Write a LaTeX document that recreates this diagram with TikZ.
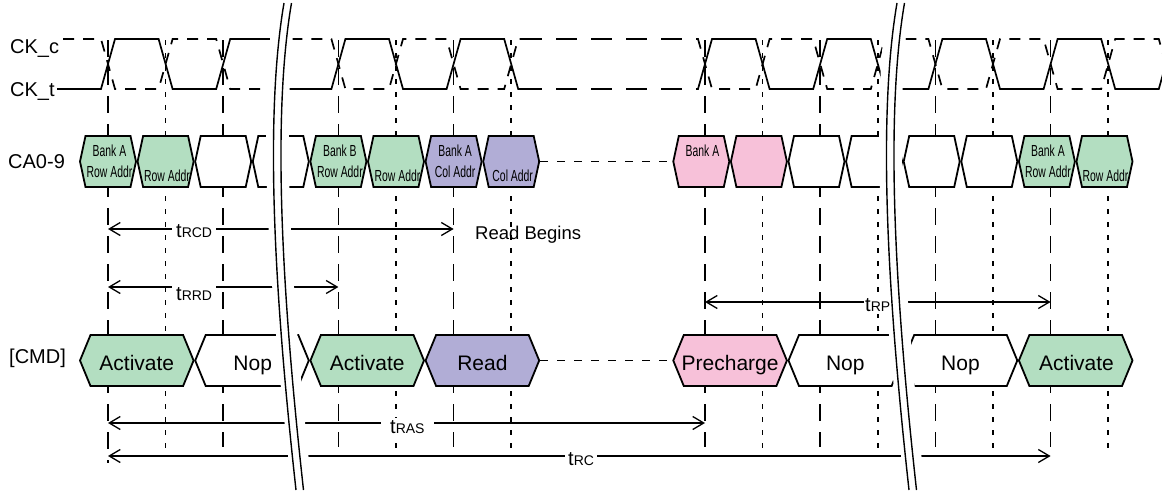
\documentclass[tikz,border=0pt]{standalone}
\usepackage{fontspec}
\setmainfont{Liberation Sans}
\newfontfamily\narrowf[FakeStretch=0.65]{Liberation Sans}
\usetikzlibrary{arrows.meta}
\definecolor{hgreen}{HTML}{B3DEC1}
\definecolor{hpurple}{HTML}{B1ADD6}
\definecolor{hpink}{HTML}{F7C1D9}
\newcommand{\bigtxt}{\fontsize{20}{24}\selectfont}
\newcommand{\cmdtxt}{\fontsize{21}{25}\selectfont}
\newcommand{\rbtxt}{\fontsize{18.5}{22}\selectfont}
\newcommand{\hextxt}{\narrowf\fontsize{16}{19}\selectfont}
\newcommand{\tsub}[1]{{\fontsize{20}{24}\selectfont t}{\fontsize{14}{16}\selectfont #1}}
\newcommand{\hexbox}[5]{%
  \draw[hexline,fill=#5] ({#1+0.8},#3) -- ({#1+0.8+#4},{#3-25.5}) -- ({#2-0.8-#4},{#3-25.5}) -- ({#2-0.8},#3) -- ({#2-0.8-#4},{#3+25.5}) -- ({#1+0.8+#4},{#3+25.5}) -- cycle;}
\tikzset{
  hexline/.style={draw=black, line width=1.8pt, line join=miter},
  clk/.style={line width=1.7pt, line join=miter},
  clkdash/.style={clk, dash pattern=on 11pt off 9pt},
  skipdash/.style={clk, dash pattern=on 21pt off 14pt},
  risel/.style={line width=1.5pt, dash pattern=on 17pt off 11pt},
  falll/.style={line width=1.5pt, dash pattern=on 5pt off 8pt},
  dim/.style={line width=1.3pt, {Straight Barb[length=11pt,width=13pt]}-{Straight Barb[length=11pt,width=13pt]}},
  lbl/.style={inner sep=0pt, anchor=base west},
  dimlbl/.style={fill=white, inner ysep=2pt, inner xsep=4pt, anchor=base west},
  hext/.style={inner sep=0pt, anchor=base, font=\hextxt},
  cmdt/.style={inner sep=0pt, anchor=base, font=\cmdtxt},
  brkline/.style={line width=1.4pt},
  conn/.style={line width=1.3pt, dash pattern=on 8pt off 9pt},
  brkpic/.pic={
    \fill[white] (275,0) .. controls (256,120) and (270,300) .. (292,490) -- (312,490) .. controls (291.5,300) and (280,120) .. (297,0) -- cycle;
    \draw[brkline] (284,3) .. controls (264,120) and (275,300) .. (296,490);
    \draw[brkline] (291.5,3) .. controls (271.5,120) and (282.5,300) .. (303.5,490);
  }
}
\begin{document}
\begin{tikzpicture}[x=1pt,y=-1pt]
\useasboundingbox (0,0) rectangle (1162,490);
\fill[white] (0,0) rectangle (1162,490);
% vertical reference lines
\foreach \x [count=\i] in {223.2,338.4,453.6,705,820.2,935.4,1050.6} {
  \coordinate (rt\i) at (\x,40); \coordinate (rb\i) at (\x,447);
  \draw[risel] (rt\i) -- (rb\i);
}
\coordinate (r0t) at (108,40); \coordinate (r0b) at (108,463);
\draw[risel] (r0t) -- (r0b);
\foreach \x [count=\i] in {165.6,396,511.2,762.6,877.8,993,1108.2} {
  \coordinate (ft\i) at (\x,40); \coordinate (fb\i) at (\x,448);
  \draw[falll] (ft\i) -- (fb\i);
}
% clocks
\draw[clk] (57,89) -- (101,89) -- (115,39) -- (158.6,39) -- (172.6,89) -- (216.2,89) -- (230.2,39) -- (273.8,39) -- (287.8,89) -- (331.4,89) -- (345.4,39) -- (389,39) -- (403,89) -- (446.6,89) -- (460.6,39) -- (504.2,39) -- (518.2,89) -- (521,89);
\draw[skipdash] (521,89) -- (697,89);
\draw[clk] (697,89) -- (698,89) -- (712,39) -- (755.6,39) -- (769.6,89) -- (813.2,89) -- (827.2,39) -- (870.8,39) -- (884.8,89) -- (928.4,89) -- (942.4,39) -- (986,39) -- (1000,89) -- (1043.6,89) -- (1057.6,39) -- (1101.2,39) -- (1115.2,89) -- (1158.8,89) -- (1172.8,39);
\draw[clkdash] (63,39) -- (101,39) -- (115,89) -- (158.6,89) -- (172.6,39) -- (216.2,39) -- (230.2,89) -- (273.8,89) -- (287.8,39) -- (331.4,39) -- (345.4,89) -- (389,89) -- (403,39) -- (446.6,39) -- (460.6,89) -- (504.2,89) -- (518.2,39) -- (521,39);
\draw[skipdash] (521,39) -- (697,39);
\draw[clkdash] (697,39) -- (698,39) -- (712,89) -- (755.6,89) -- (769.6,39) -- (813.2,39) -- (827.2,89) -- (870.8,89) -- (884.8,39) -- (928.4,39) -- (942.4,89) -- (986,89) -- (1000,39) -- (1043.6,39) -- (1057.6,89) -- (1101.2,89) -- (1115.2,39) -- (1158.8,39) -- (1172.8,89);
% dimension arrows
\coordinate (rcdA) at (108,229); \coordinate (rcdB) at (453.6,229);
\draw[dim] (rcdA) -- (rcdB);
\coordinate (rrdA) at (108,287); \coordinate (rrdB) at (338.4,287);
\draw[dim] (rrdA) -- (rrdB);
\coordinate (rpA) at (705,302); \coordinate (rpB) at (1050.6,302);
\draw[dim] (rpA) -- (rpB);
\coordinate (rasA) at (108,423); \coordinate (rasB) at (705,423);
\draw[dim] (rasA) -- (rasB);
\coordinate (rcA) at (108,456); \coordinate (rcB) at (1050.6,456);
\draw[dim] (rcA) -- (rcB);
% dotted connectors
\coordinate (caL) at (540,161.5); \coordinate (caR) at (672.5,161.5);
\draw[conn] (caL) -- (caR);
\coordinate (cmL) at (540,360.5); \coordinate (cmR) at (672.5,360.5);
\draw[conn] (cmL) -- (cmR);
% CA hexagons
\hexbox{79.2}{136.8}{161.5}{5.5}{hgreen}
\hexbox{136.8}{194.4}{161.5}{5.5}{hgreen}
\hexbox{194.4}{252}{161.5}{5.5}{white}
\hexbox{252}{309.6}{161.5}{5.5}{white}
\hexbox{309.6}{367.2}{161.5}{5.5}{hgreen}
\hexbox{367.2}{424.8}{161.5}{5.5}{hgreen}
\hexbox{424.8}{482.4}{161.5}{5.5}{hpurple}
\hexbox{482.4}{540}{161.5}{5.5}{hpurple}
\hexbox{672.5}{730.1}{161.5}{5.5}{hpink}
\hexbox{730.1}{787.7}{161.5}{5.5}{hpink}
\hexbox{787.7}{845.3}{161.5}{5.5}{white}
\hexbox{845.3}{902.9}{161.5}{5.5}{white}
\hexbox{902.9}{960.5}{161.5}{5.5}{white}
\hexbox{960.5}{1018.1}{161.5}{5.5}{white}
\hexbox{1018.1}{1075.7}{161.5}{5.5}{hgreen}
\hexbox{1075.7}{1133.3}{161.5}{5.5}{hgreen}
% CMD hexagons
\hexbox{79.2}{194.4}{360.5}{10.5}{hgreen}
\hexbox{194.4}{309.6}{360.5}{10.5}{white}
\hexbox{309.6}{424.8}{360.5}{10.5}{hgreen}
\hexbox{424.8}{540}{360.5}{10.5}{hpurple}
\hexbox{672.5}{787.7}{360.5}{10.5}{hpink}
\hexbox{787.7}{902.9}{360.5}{10.5}{white}
\hexbox{902.9}{1018.1}{360.5}{10.5}{white}
\hexbox{1018.1}{1133.3}{360.5}{10.5}{hgreen}
% CA texts
\node[hext] (c1a) at (109.5,156.7) {Bank A};
\node[hext] (c1b) at (109.5,177.5) {Row Addr};
\node[hext] (c2) at (167,181) {Row Addr};
\node[hext] (c5a) at (339.9,156.7) {Bank B};
\node[hext] (c5b) at (339.9,177.5) {Row Addr};
\node[hext] (c6) at (397.5,181) {Row Addr};
\node[hext] (c7a) at (455.1,156.7) {Bank A};
\node[hext] (c7b) at (455.1,177.5) {Col Addr};
\node[hext] (c8) at (512.7,181) {Col Addr};
\node[hext] (c9) at (702.5,156) {Bank A};
\node[hext] (c15a) at (1048,156.7) {Bank A};
\node[hext] (c15b) at (1048,177.5) {Row Addr};
\node[hext] (c16) at (1105.5,181) {Row Addr};
% CMD texts
\node[cmdt] (m1) at (136.8,370.5) {Activate};
\node[cmdt] (m2) at (252.7,370.5) {Nop};
\node[cmdt] (m3) at (367.2,370.5) {Activate};
\node[cmdt] (m4) at (482.4,370.5) {Read};
\node[cmdt] (m5) at (730.1,370.5) {Precharge};
\node[cmdt] (m6) at (845.3,370.5) {Nop};
\node[cmdt] (m7) at (960.5,370.5) {Nop};
\node[cmdt] (m8) at (1076.5,370.5) {Activate};
% dimension labels
\node[dimlbl] (lrcd) at (172,237.3) {\tsub{RCD}};
\node[dimlbl] (lrrd) at (172,300.5) {\tsub{RRD}};
\node[dimlbl, inner xsep=9pt] (lras) at (381,433) {\tsub{RAS}};
\node[dimlbl, inner xsep=3pt] (lrc) at (565,465.7) {\tsub{RC}};
\node[lbl] (rb) at (475,239) {\rbtxt Read Begins};
% row labels
\node[lbl] (ckc) at (10,53.3) {\bigtxt CK\_c};
\node[lbl] (ckt) at (10,96.7) {\bigtxt CK\_t};
\node[lbl] (ca) at (8,168) {\bigtxt CA0-9};
\node[lbl] (cmd) at (9,363.5) {\bigtxt [CMD]};
% breaks
\pic at (0,0) {brkpic};
\pic at (613,0) {brkpic};
\node[dimlbl, inner xsep=1pt] (lrp) at (864,311.5) {\tsub{RP}};
\end{tikzpicture}
\end{document}
